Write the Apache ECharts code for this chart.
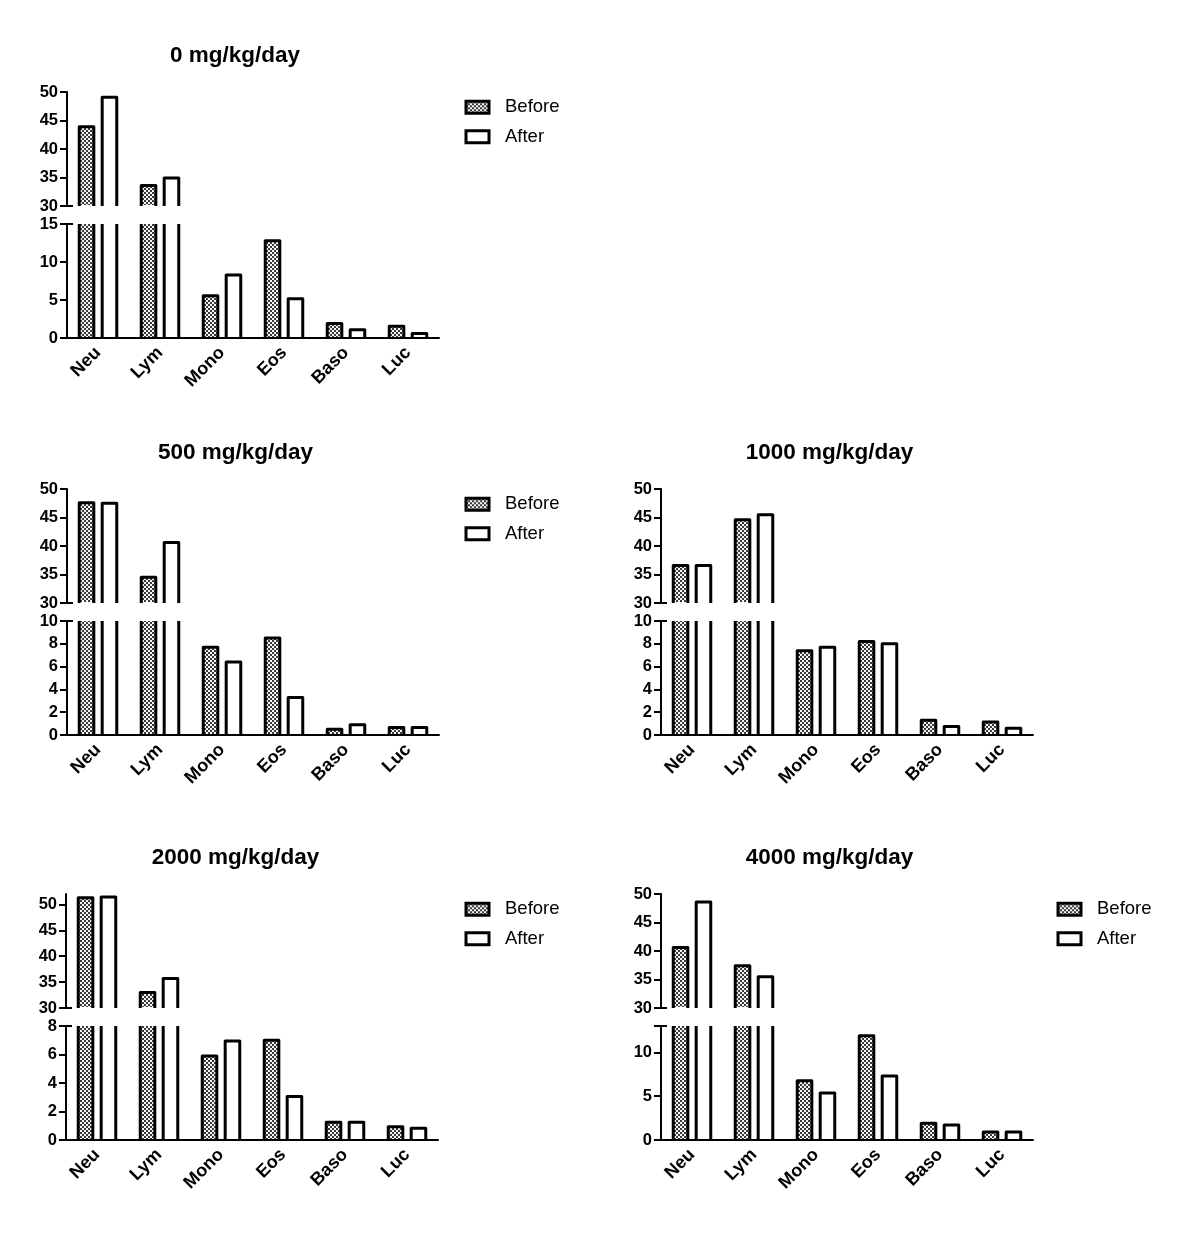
<!DOCTYPE html>
<html><head><meta charset="utf-8">
<script src="https://cdn.jsdelivr.net/npm/echarts@6/dist/echarts.min.js"></script>
<style>html,body{margin:0;padding:0;background:#fff}#c{width:1200px;height:1238px}</style>
</head><body><div id="c"></div>
<script>
// ---------- data ----------
const categories = ['Neu', 'Lym', 'Mono', 'Eos', 'Baso', 'Luc'];
const seriesNames = ['Before', 'After'];
const panelTitles = ['0 mg/kg/day', '500 mg/kg/day', '1000 mg/kg/day', '2000 mg/kg/day', '4000 mg/kg/day'];

const before0 = [43.9, 33.6, 5.55, 12.8, 1.9, 1.55];
const after0 = [49.1, 34.9, 8.3, 5.15, 1.1, 0.6];
const before500 = [47.6, 34.5, 7.7, 8.5, 0.5, 0.65];
const after500 = [47.5, 40.6, 6.4, 3.3, 0.9, 0.65];
const before1000 = [36.6, 44.6, 7.4, 8.2, 1.3, 1.15];
const after1000 = [36.6, 45.5, 7.7, 8.0, 0.75, 0.6];
const before2000 = [51.3, 33.0, 5.9, 7.0, 1.25, 0.93];
const after2000 = [51.4, 35.7, 6.95, 3.05, 1.25, 0.83];
const before4000 = [40.6, 37.4, 6.75, 11.9, 1.9, 0.9];
const after4000 = [48.6, 35.5, 5.35, 7.3, 1.7, 0.9];

// axis ranges [min, max] and tick labels
const upperRange0 = [30, 50], lowerRange0 = [0, 15];
const upperRange500 = [30, 50], lowerRange500 = [0, 10];
const upperRange1000 = [30, 50], lowerRange1000 = [0, 10];
const upperRange2000 = [30, 52], lowerRange2000 = [0, 8];
const upperRange4000 = [30, 50], lowerRange4000 = [0, 13];
const upperLabels = [30, 35, 40, 45, 50];
const lowerLabels0 = [0, 5, 10, 15];
const lowerLabels500 = [0, 2, 4, 6, 8, 10];
const lowerLabels1000 = [0, 2, 4, 6, 8, 10];
const lowerLabels2000 = [0, 2, 4, 6, 8];
const lowerLabels4000 = [0, 5, 10];

// ---------- layout ----------
const FONT = '"Liberation Sans", Arial, Helvetica, sans-serif';
const GRID_W = 372, GRID_H = 114, BREAK_GAP = 18;
const panels = [
  { title: panelTitles[0], before: before0, after: after0, up: upperRange0, low: lowerRange0, lowLabels: lowerLabels0, lowInterval: 5, left: 67, top: 92, titleX: 235, legend: [464.5, 97.7] },
  { title: panelTitles[1], before: before500, after: after500, up: upperRange500, low: lowerRange500, lowLabels: lowerLabels500, lowInterval: 2, left: 67, top: 489, titleX: 235.5, legend: [464.5, 494.7] },
  { title: panelTitles[2], before: before1000, after: after1000, up: upperRange1000, low: lowerRange1000, lowLabels: lowerLabels1000, lowInterval: 2, left: 661, top: 489, titleX: 829.5, legend: null },
  { title: panelTitles[3], before: before2000, after: after2000, up: upperRange2000, low: lowerRange2000, lowLabels: lowerLabels2000, lowInterval: 2, left: 66, top: 894, titleX: 235.5, legend: [464.5, 899.7] },
  { title: panelTitles[4], before: before4000, after: after4000, up: upperRange4000, low: lowerRange4000, lowLabels: lowerLabels4000, lowInterval: 5, left: 661, top: 894, titleX: 829.5, legend: [1056.5, 899.7] }
];

// checkered pattern fill
const pc = document.createElement('canvas');
pc.width = 4; pc.height = 4;
const pctx = pc.getContext('2d');
pctx.fillStyle = '#f6f6f6'; pctx.fillRect(0, 0, 4, 4);
pctx.fillStyle = '#3a3a3a'; pctx.fillRect(0, 0, 2, 2); pctx.fillRect(2, 2, 2, 2);
const checker = { image: pc, repeat: 'repeat' };
const fills = [checker, '#ffffff'];

function barRenderer(side, fill) {
  return function (params, api) {
    const cs = params.coordSys;
    const cat = api.value(0);
    const v = api.value(1);
    const pt = api.coord([cat, v]);
    const band = api.size([1, 0])[0];
    const w = band * 0.235;
    const cx = pt[0] + side * band * 0.185;
    const x0 = cx - w / 2, x1 = cx + w / 2;
    const base = cs.y + cs.height;
    if (pt[1] >= base - 0.5) return null;
    const open = pt[1] < cs.y;
    const top = open ? cs.y : pt[1];
    const stroke = { stroke: '#000', lineWidth: 3, fill: null, lineJoin: 'round' };
    const children = [{ type: 'rect', shape: { x: x0, y: top, width: w, height: base - top - 1 }, style: { fill: fill } }];
    if (open) {
      children.push({ type: 'line', shape: { x1: x0, y1: top, x2: x0, y2: base }, style: stroke });
      children.push({ type: 'line', shape: { x1: x1, y1: top, x2: x1, y2: base }, style: stroke });
    } else {
      children.push({ type: 'polyline', shape: { points: [[x0, base], [x0, top], [x1, top], [x1, base]] }, style: stroke });
    }
    return { type: 'group', children: children };
  };
}

const grid = [], xAxis = [], yAxis = [], series = [], legend = [], graphic = [];
const axisLineStyle = { color: '#000', width: 2 };

panels.forEach(function (p, i) {
  const gUp = 2 * i, gLow = 2 * i + 1;
  grid.push({ left: p.left, top: p.top, width: GRID_W, height: GRID_H });
  grid.push({ left: p.left, top: p.top + GRID_H + BREAK_GAP, width: GRID_W, height: GRID_H });

  xAxis.push({ gridIndex: gUp, type: 'category', data: categories, show: false });
  xAxis.push({
    gridIndex: gLow, type: 'category', data: categories,
    axisLine: { lineStyle: axisLineStyle },
    axisTick: { alignWithLabel: true, length: 7, lineStyle: axisLineStyle },
    axisLabel: { rotate: 45, margin: 12, color: '#000', fontSize: 18, fontWeight: 'bold', fontFamily: FONT, interval: 0 }
  });

  const upTicks = upperLabels.filter(function (t) { return t <= p.up[1]; });
  const lowTicks = p.lowLabels.indexOf(p.low[1]) >= 0 ? p.lowLabels : p.lowLabels.concat([p.low[1]]);
  const mainY = function (g, range, interval, labels, ticks) {
    return {
      gridIndex: g, type: 'value', position: 'left', min: range[0], max: range[1], interval: interval,
      axisLine: { show: true, onZero: false, lineStyle: axisLineStyle },
      axisTick: { show: true, length: 7, lineStyle: axisLineStyle, customValues: ticks },
      axisLabel: { color: '#000', fontSize: 16.5, fontWeight: 'bold', fontFamily: FONT, margin: 9, customValues: labels },
      splitLine: { show: false }
    };
  };
  const capY = function (g, range, cap) {
    return {
      gridIndex: g, type: 'value', position: 'left', min: range[0], max: range[1],
      axisLine: { show: false }, axisLabel: { show: false }, splitLine: { show: false },
      axisTick: { show: true, inside: true, length: 6, lineStyle: axisLineStyle, customValues: [cap] }
    };
  };
  const yUp = yAxis.length;
  yAxis.push(mainY(gUp, p.up, 5, upTicks, upTicks));
  yAxis.push(capY(gUp, p.up, p.up[0]));
  const yLow = yAxis.length;
  yAxis.push(mainY(gLow, p.low, p.lowInterval, p.lowLabels, lowTicks));
  yAxis.push(capY(gLow, p.low, p.low[1]));

  [p.before, p.after].forEach(function (vals, k) {
    const data = vals.map(function (v, c) { return [c, v]; });
    [[gUp, yUp], [gLow, yLow]].forEach(function (ax) {
      series.push({
        type: 'custom', name: seriesNames[k], xAxisIndex: ax[0], yAxisIndex: ax[1],
        silent: true, animation: false,
        itemStyle: { color: fills[k], borderColor: '#000', borderWidth: 3 },
        encode: { x: 0, y: 1 },
        renderItem: barRenderer(k === 0 ? -1 : 1, fills[k]),
        data: data
      });
    });
  });

  graphic.push({
    type: 'text', x: p.titleX, y: p.top - 36, silent: true,
    style: { text: p.title, fill: '#000', font: 'bold 22.5px ' + FONT, align: 'center', verticalAlign: 'middle' }
  });

  if (p.legend) {
    legend.push({
      orient: 'vertical', left: p.legend[0], top: p.legend[1], padding: 0,
      itemWidth: 23, itemHeight: 12, itemGap: 10.5, icon: 'rect', selectedMode: false,
      textStyle: { fontFamily: FONT, fontSize: 18.5, color: '#000', lineHeight: 18, padding: [0, 0, 0, 11] },
      data: [
        { name: 'Before', itemStyle: { color: checker, borderColor: '#000', borderWidth: 3 } },
        { name: 'After', itemStyle: { color: '#ffffff', borderColor: '#000', borderWidth: 3 } }
      ]
    });
  }
});

const chart = echarts.init(document.getElementById('c'), null, { renderer: 'canvas' });
chart.setOption({
  backgroundColor: '#fff',
  animation: false,
  textStyle: { fontFamily: FONT },
  grid: grid, xAxis: xAxis, yAxis: yAxis, series: series, legend: legend, graphic: graphic
});
</script>
</body></html>
